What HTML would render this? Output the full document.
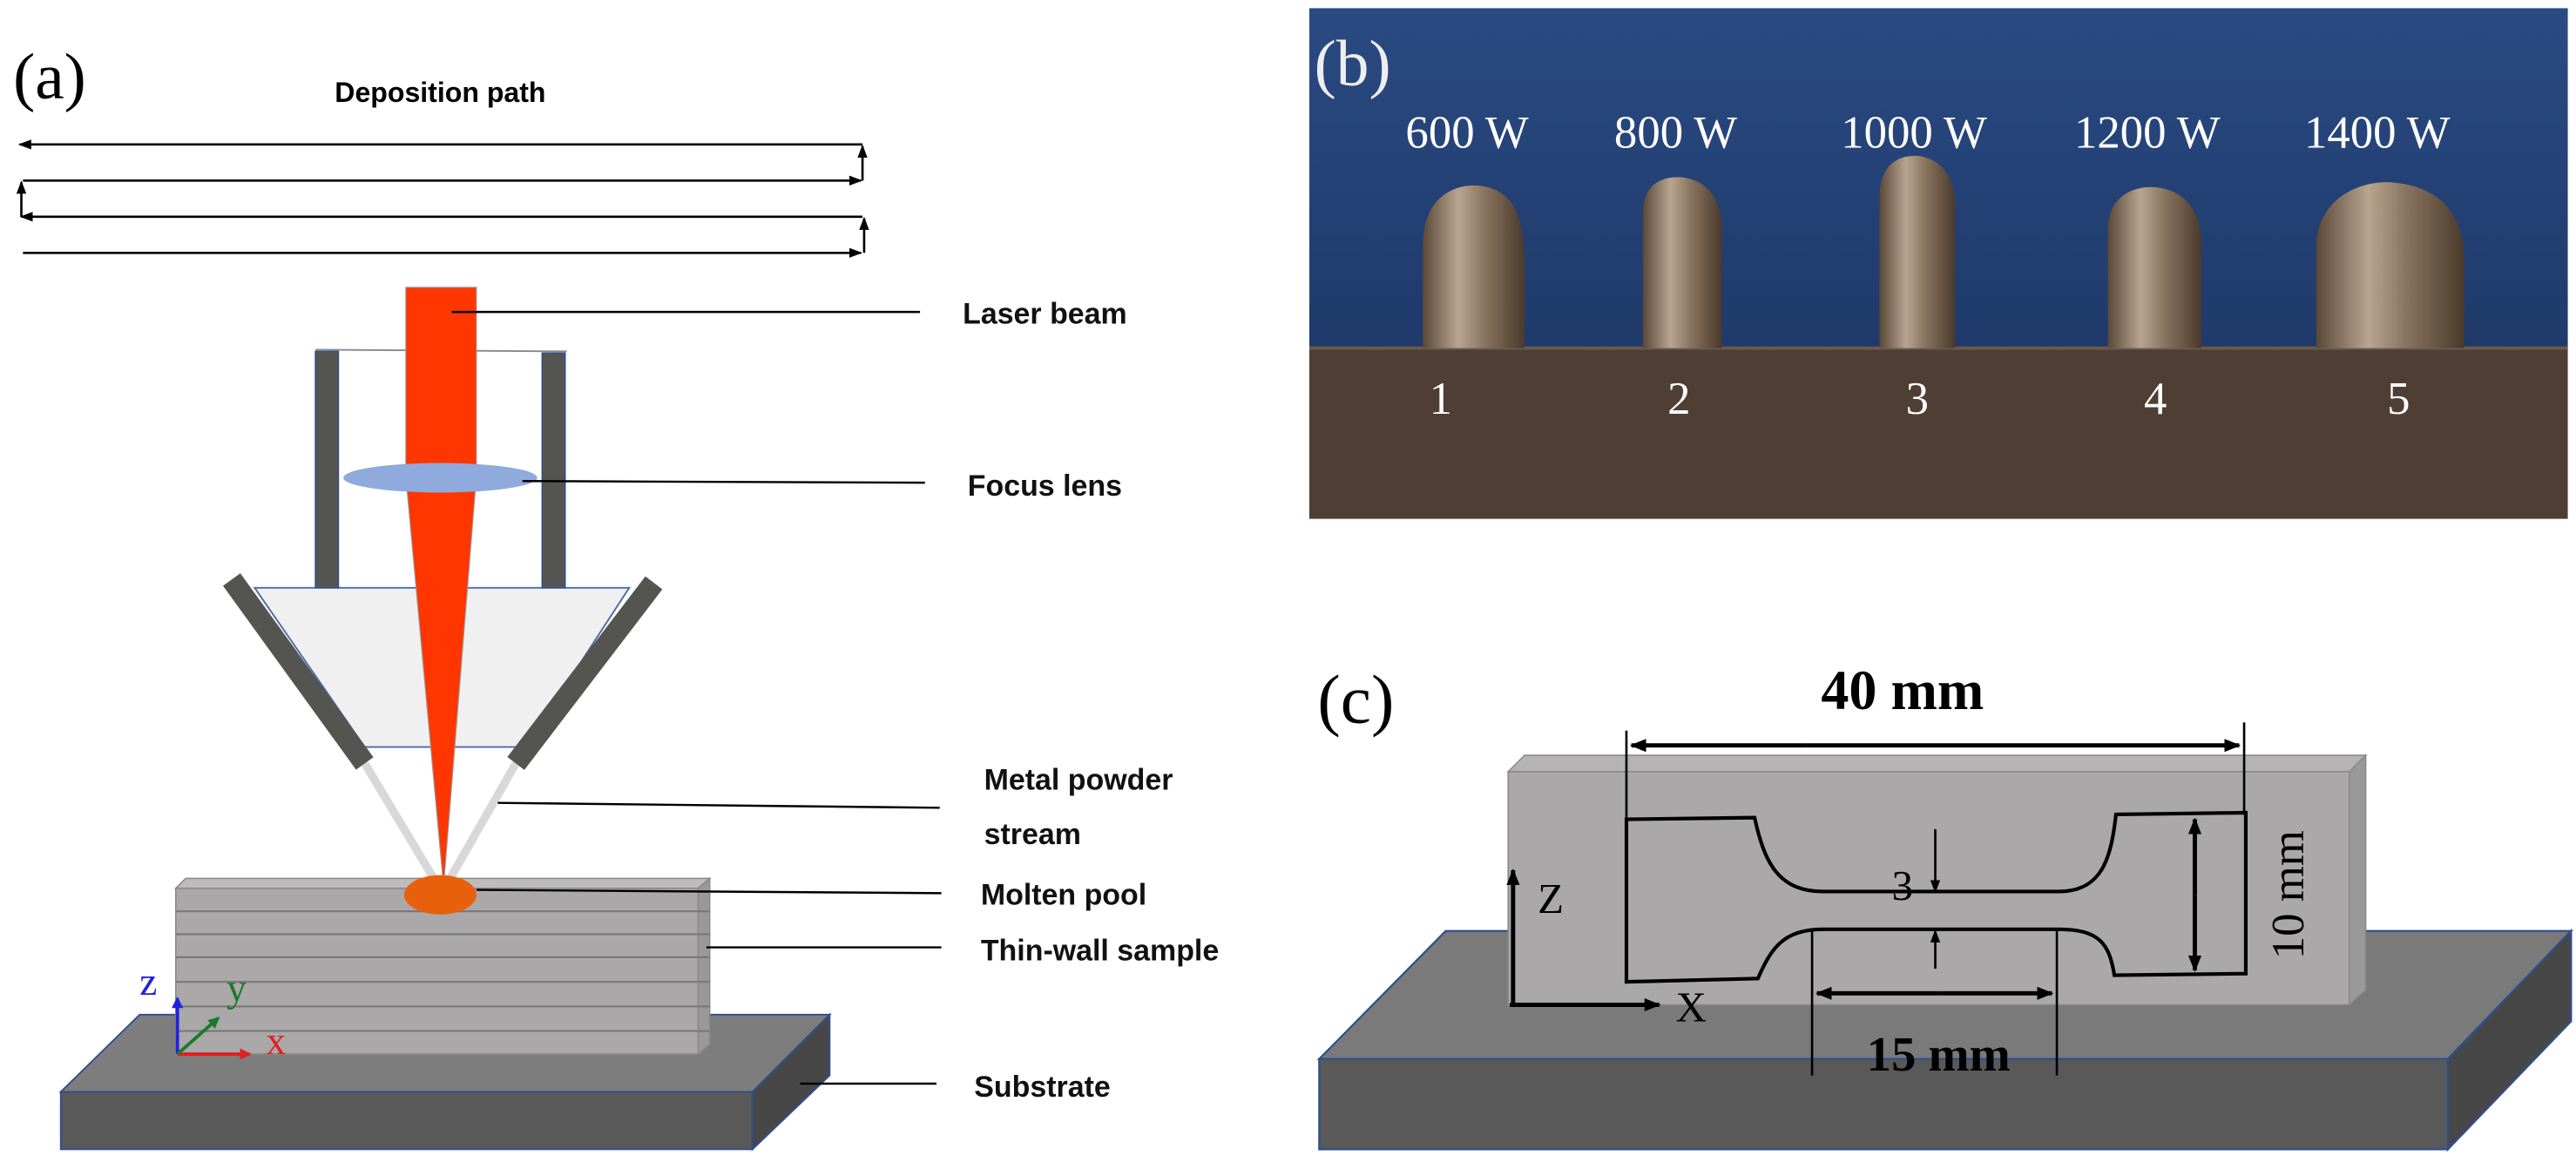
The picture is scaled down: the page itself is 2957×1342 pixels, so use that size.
<!DOCTYPE html>
<html><head><meta charset="utf-8"><style>html,body{margin:0;padding:0;background:#fff}svg{display:block}</style></head><body>
<svg width="2957" height="1342" viewBox="0 0 1568 712" preserveAspectRatio="none" xmlns="http://www.w3.org/2000/svg">
<defs>
<marker id="ah" markerWidth="10" markerHeight="10" refX="9" refY="5" orient="auto" markerUnits="userSpaceOnUse"><path d="M0,1 L10,5 L0,9 Z" fill="#000"/></marker>
<marker id="ahs" markerWidth="8" markerHeight="8" refX="7" refY="4" orient="auto" markerUnits="userSpaceOnUse"><path d="M0,1 L8,4 L0,7 Z" fill="#000"/></marker>
<marker id="ab" markerWidth="7" markerHeight="7" refX="6" refY="3.5" orient="auto" markerUnits="userSpaceOnUse"><path d="M0,0 L7,3.5 L0,7 Z" fill="#2020e0"/></marker>
<marker id="ar" markerWidth="7" markerHeight="7" refX="6" refY="3.5" orient="auto" markerUnits="userSpaceOnUse"><path d="M0,0 L7,3.5 L0,7 Z" fill="#e02020"/></marker>
<marker id="ag" markerWidth="7" markerHeight="7" refX="6" refY="3.5" orient="auto" markerUnits="userSpaceOnUse"><path d="M0,0 L7,3.5 L0,7 Z" fill="#1a7a2a"/></marker>
<linearGradient id="sky" x1="0" y1="0" x2="0" y2="1"><stop offset="0" stop-color="#2a4a82"/><stop offset="1" stop-color="#1f3a6a"/></linearGradient>
<linearGradient id="bead" x1="0" y1="0" x2="1" y2="0"><stop offset="0" stop-color="#5a4838"/><stop offset="0.35" stop-color="#b8a590"/><stop offset="0.6" stop-color="#8a7560"/><stop offset="1" stop-color="#4a3a2c"/></linearGradient>
</defs>

<!-- Panel (a) -->
<text x="8" y="60" font-family="Liberation Serif,serif" font-size="40">(a)</text>
<text x="268" y="62" text-anchor="middle" font-family="Liberation Sans,sans-serif" font-size="17" font-weight="bold">Deposition path</text>
<g stroke="#000" stroke-width="1.4" fill="none">
<line x1="525" y1="88" x2="12" y2="88" marker-end="url(#ahs)"/>
<line x1="14" y1="110" x2="524" y2="110" marker-end="url(#ahs)"/>
<line x1="525" y1="110" x2="525" y2="89" marker-end="url(#ahs)"/>
<line x1="525" y1="132" x2="13" y2="132" marker-end="url(#ahs)"/>
<line x1="13" y1="132" x2="13" y2="111" marker-end="url(#ahs)"/>
<line x1="14" y1="154" x2="524" y2="154" marker-end="url(#ahs)"/>
<line x1="526" y1="154" x2="526" y2="133" marker-end="url(#ahs)"/>
</g>
<polygon points="37,665 85,618 505,618 458,665" fill="#7d7d7d" stroke="#2f4f8f" stroke-width="1"/>
<rect x="37" y="665" width="421" height="35" fill="#595959" stroke="#2f4f8f" stroke-width="1"/>
<polygon points="458,665 505,618 505,655 458,700" fill="#474747" stroke="#2f4f8f" stroke-width="1"/>
<polygon points="107,541 113,535 432,535 425,541" fill="#bdbbbb" stroke="#888" stroke-width="0.8"/>
<rect x="107" y="541" width="318" height="101" fill="#aaa8a8" stroke="#888" stroke-width="0.8"/>
<polygon points="425,541 432,535 432,636 425,642" fill="#999" stroke="#888" stroke-width="0.8"/>
<g stroke="#7a7a7a" stroke-width="1.2">
<line x1="107" y1="555" x2="432" y2="555"/><line x1="107" y1="569" x2="432" y2="569"/><line x1="107" y1="583" x2="432" y2="583"/><line x1="107" y1="598" x2="432" y2="598"/><line x1="107" y1="613" x2="432" y2="613"/><line x1="107" y1="628" x2="432" y2="628"/>
</g>
<polygon points="155,358 383,358 320,455 222,455" fill="#f0f0f0" stroke="#4a6aa8" stroke-width="1"/>
<line x1="192" y1="213" x2="345" y2="214" stroke="#888" stroke-width="1"/>
<rect x="192" y="214" width="14" height="144" fill="#545450" stroke="#2f4f8f" stroke-width="0.8"/>
<rect x="330" y="215" width="14" height="143" fill="#545450" stroke="#2f4f8f" stroke-width="0.8"/>
<line x1="222" y1="465" x2="264" y2="535" stroke="#d8d8d8" stroke-width="5"/>
<line x1="314" y1="465" x2="274" y2="535" stroke="#d8d8d8" stroke-width="5"/>
<line x1="141" y1="353" x2="222" y2="465" stroke="#545450" stroke-width="13"/>
<line x1="398" y1="355" x2="314" y2="465" stroke="#545450" stroke-width="13"/>
<polygon points="247,175 290,175 290,290 270,540 247,290" fill="#ff3600" stroke="#999" stroke-width="0.6"/>
<ellipse cx="268" cy="291" rx="59" ry="9" fill="#8faadc"/>
<ellipse cx="268" cy="545" rx="22" ry="12" fill="#e8600c"/>
<line x1="108" y1="642" x2="108" y2="608" stroke="#2020e0" stroke-width="2" marker-end="url(#ab)"/>
<line x1="108" y1="642" x2="152" y2="642" stroke="#e02020" stroke-width="2" marker-end="url(#ar)"/>
<line x1="108" y1="642" x2="133" y2="620" stroke="#1a7a2a" stroke-width="2" marker-end="url(#ag)"/>
<text x="85" y="606" font-family="Liberation Serif,serif" font-size="24" fill="#2020e0">z</text>
<text x="138" y="610" font-family="Liberation Serif,serif" font-size="24" fill="#1a7a2a">y</text>
<text x="162" y="642" font-family="Liberation Serif,serif" font-size="24" fill="#e02020">x</text>
<g stroke="#000" stroke-width="1.3">
<line x1="275" y1="190" x2="560" y2="190"/>
<line x1="318" y1="293" x2="563" y2="294"/>
<line x1="303" y1="489" x2="572" y2="492"/>
<line x1="290" y1="542" x2="573" y2="544"/>
<line x1="430" y1="577" x2="573" y2="577"/>
<line x1="487" y1="660" x2="570" y2="660"/>
</g>
<g font-family="Liberation Sans,sans-serif" font-size="18" font-weight="bold" fill="#111">
<text x="586" y="197">Laser beam</text>
<text x="589" y="302">Focus lens</text>
<text x="599" y="481">Metal powder</text>
<text x="599" y="514">stream</text>
<text x="597" y="551">Molten pool</text>
<text x="597" y="585">Thin-wall sample</text>
<text x="593" y="668">Substrate</text>
</g>

<!-- Panel (b) -->
<rect x="797" y="5" width="766" height="208" fill="url(#sky)"/>
<rect x="797" y="211" width="766" height="105" fill="#4e3e34"/>
<line x1="797" y1="212" x2="1563" y2="212" stroke="#6a5a4e" stroke-width="2"/>
<g fill="url(#bead)">
<path d="M866,212 L866,150 C866,120 885,112 900,113 C920,115 928,130 928,160 L928,212 Z"/>
<path d="M1000,212 L1000,130 C1000,112 1012,107 1024,108 C1040,110 1048,122 1048,140 L1048,212 Z"/>
<path d="M1144,212 L1144,120 C1144,100 1156,94 1168,95 C1182,97 1190,108 1190,125 L1190,212 Z"/>
<path d="M1283,212 L1283,140 C1283,120 1298,113 1312,114 C1330,116 1340,128 1340,150 L1340,212 Z"/>
<path d="M1410,212 L1410,150 C1410,122 1435,110 1455,111 C1485,113 1500,130 1500,160 L1500,212 Z"/>
</g>
<text x="800" y="52" font-family="Liberation Serif,serif" font-size="40" fill="#eee">(b)</text>
<g font-family="Liberation Serif,serif" font-size="28" fill="#fff" text-anchor="middle">
<text x="893" y="90">600 W</text><text x="1020" y="90">800 W</text><text x="1165" y="90">1000 W</text><text x="1307" y="90">1200 W</text><text x="1447" y="90">1400 W</text>
<text x="877" y="252">1</text><text x="1022" y="252">2</text><text x="1167" y="252">3</text><text x="1312" y="252">4</text><text x="1460" y="252">5</text>
</g>

<!-- Panel (c) -->
<text x="802" y="440" font-family="Liberation Serif,serif" font-size="42">(c)</text>
<polygon points="803,645 880,567 1565,567 1490,645" fill="#7a7a7a" stroke="#2f4f8f" stroke-width="1.2"/>
<rect x="803" y="645" width="687" height="55" fill="#595959" stroke="#2f4f8f" stroke-width="1.2"/>
<polygon points="1490,645 1565,567 1565,622 1490,700" fill="#474747" stroke="#2f4f8f" stroke-width="1.2"/>
<polygon points="918,470 928,460 1440,460 1430,470" fill="#b5b3b3" stroke="#888" stroke-width="0.8"/>
<rect x="918" y="470" width="512" height="142" fill="#aaa8a8" stroke="#888" stroke-width="0.8"/>
<polygon points="1430,470 1440,460 1440,603 1430,612" fill="#999" stroke="#888" stroke-width="0.8"/>
<path d="M990,499 L1068,498 C1074,525 1082,543 1110,543 L1253,543 C1280,543 1285,522 1288,496 L1367,495 L1367,593 L1287,594 C1284,575 1278,566 1253,566 L1110,566 C1085,566 1078,578 1070,596 L990,598 Z" fill="none" stroke="#000" stroke-width="2.2"/>
<g stroke="#000" stroke-width="1.4">
<line x1="990" y1="445" x2="990" y2="499"/><line x1="1366" y1="440" x2="1366" y2="495"/>
<line x1="1103" y1="567" x2="1103" y2="655"/><line x1="1252" y1="567" x2="1252" y2="655"/>
<line x1="1178" y1="505" x2="1178" y2="543" marker-end="url(#ahs)"/>
<line x1="1178" y1="590" x2="1178" y2="567" marker-end="url(#ahs)"/>
</g>
<g stroke="#000" stroke-width="2.6">
<line x1="1100" y1="454" x2="993" y2="454" marker-end="url(#ah)"/><line x1="1100" y1="454" x2="1363" y2="454" marker-end="url(#ah)"/>
<line x1="1180" y1="605" x2="1106" y2="605" marker-end="url(#ah)"/><line x1="1180" y1="605" x2="1249" y2="605" marker-end="url(#ah)"/>
<line x1="1336" y1="545" x2="1336" y2="499" marker-end="url(#ah)"/><line x1="1336" y1="545" x2="1336" y2="591" marker-end="url(#ah)"/>
<line x1="921" y1="612" x2="921" y2="530" marker-end="url(#ah)"/>
<line x1="919" y1="612" x2="1010" y2="612" marker-end="url(#ah)"/>
</g>
<g font-family="Liberation Serif,serif" fill="#000">
<text x="1158" y="432" text-anchor="middle" font-size="34" font-weight="bold">40 mm</text>
<text x="1180" y="652" text-anchor="middle" font-size="30" font-weight="bold">15 mm</text>
<text x="1158" y="548" text-anchor="middle" font-size="26">3</text>
<text x="936" y="556" font-size="26">Z</text>
<text x="1020" y="622" font-size="26">X</text>
<text transform="translate(1402,545) rotate(-90)" text-anchor="middle" font-size="28">10 mm</text>
</g>
</svg>
</body></html>
